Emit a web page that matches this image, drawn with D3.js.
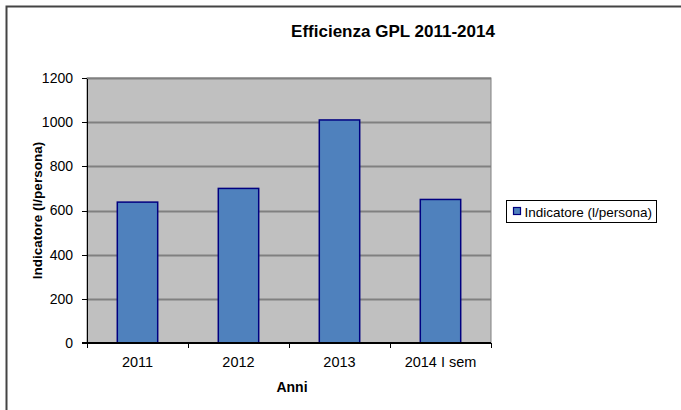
<!DOCTYPE html>
<html lang="it">
<head>
  <meta charset="utf-8">
  <title>Efficienza GPL 2011-2014</title>
  <style>
    body { margin: 0; background: #fff; }
    svg text { font-family: "Liberation Sans", Arial, sans-serif; fill: #000; }
    .axis path, .axis line { stroke: #000; shape-rendering: crispEdges; }
    .axis text { font-size: 14px; }
  </style>
</head>
<body>
<div id="chart"></div>
<script src="https://d3js.org/d3.v7.min.js"></script>
<script>
  const anni = ["2011", "2012", "2013", "2014 I sem"];
  const indicatore = [638, 700, 1010, 650];
  const yTicks = [0, 200, 400, 600, 800, 1000, 1200];

  const width = 681, height = 410;
  const plot = { left: 87, right: 491, top: 78, bottom: 343 };

  const svg = d3.select("#chart").append("svg")
    .attr("width", width)
    .attr("height", height);

  // outer frame (runs off the right and bottom)
  svg.append("rect")
    .attr("x", 6.5).attr("y", 6.5)
    .attr("width", 700).attr("height", 420)
    .attr("fill", "none")
    .attr("stroke", "#444")
    .attr("stroke-width", 2);

  const x = d3.scaleBand()
    .domain(anni)
    .range([plot.left, plot.right])
    .paddingInner(0.6)
    .paddingOuter(0.3);

  const xBand = d3.scaleBand()
    .domain(anni)
    .range([plot.left, plot.right]);

  const y = d3.scaleLinear()
    .domain([0, 1200])
    .range([plot.bottom, plot.top]);

  // plot area
  svg.append("rect")
    .attr("x", plot.left).attr("y", plot.top)
    .attr("width", plot.right - plot.left)
    .attr("height", plot.bottom - plot.top)
    .attr("fill", "#c0c0c0")
    .attr("stroke", "#808080")
    .attr("stroke-width", 1);

  // grid lines
  svg.append("g").selectAll("line")
    .data(yTicks.filter(d => d > 0))
    .join("line")
    .attr("x1", plot.left).attr("x2", plot.right)
    .attr("y1", d => Math.round(y(d)) + 0.5)
    .attr("y2", d => Math.round(y(d)) + 0.5)
    .attr("stroke", "#808080")
    .attr("stroke-width", 2);

  // bars
  svg.append("g").selectAll("rect")
    .data(anni)
    .join("rect")
    .attr("x", d => x(d))
    .attr("y", (d, i) => y(indicatore[i]))
    .attr("width", x.bandwidth())
    .attr("height", (d, i) => y(0) - y(indicatore[i]))
    .attr("fill", "#4f81bd")
    .attr("stroke", "#000080")
    .attr("stroke-width", 1.5);

  // y axis
  const yAxis = svg.append("g")
    .attr("class", "axis")
    .attr("transform", `translate(${plot.left},0)`)
    .call(d3.axisLeft(y).tickValues(yTicks).tickFormat(d3.format("d"))
      .tickSize(5).tickSizeOuter(0).tickPadding(9));
  yAxis.select(".domain").attr("stroke-width", 1.5);

  // x axis with ticks between categories
  const xAxis = svg.append("g")
    .attr("class", "axis")
    .attr("transform", `translate(0,${plot.bottom})`);
  xAxis.append("line")
    .attr("x1", plot.left - 5).attr("x2", plot.right)
    .attr("stroke", "#000").attr("stroke-width", 1.5);
  xAxis.selectAll(".sep")
    .data(anni.concat(["end"]))
    .join("line")
    .attr("class", "sep")
    .attr("x1", (d, i) => i < anni.length ? xBand(d) : plot.right)
    .attr("x2", (d, i) => i < anni.length ? xBand(d) : plot.right)
    .attr("y1", 0).attr("y2", 5)
    .attr("stroke", "#000");
  xAxis.selectAll("text")
    .data(anni)
    .join("text")
    .attr("x", d => xBand(d) + xBand.bandwidth() / 2)
    .attr("y", 24)
    .attr("text-anchor", "middle")
    .style("font-size", "14.5px")
    .text(d => d);

  // titles
  svg.append("text")
    .attr("x", 393).attr("y", 37)
    .attr("text-anchor", "middle")
    .style("font-size", "17px").style("font-weight", "bold")
    .text("Efficienza GPL 2011-2014");

  svg.append("text")
    .attr("x", 292).attr("y", 392)
    .attr("text-anchor", "middle")
    .style("font-size", "14px").style("font-weight", "bold")
    .text("Anni");

  svg.append("text")
    .attr("transform", `translate(42,${(plot.top + plot.bottom) / 2}) rotate(-90)`)
    .attr("text-anchor", "middle")
    .style("font-size", "13.5px").style("font-weight", "bold")
    .text("Indicatore (l/persona)");

  // legend
  const legend = svg.append("g").attr("transform", "translate(506.5,200.5)");
  legend.append("rect")
    .attr("width", 150).attr("height", 22)
    .attr("fill", "#fff").attr("stroke", "#000").attr("stroke-width", 1);
  legend.append("rect")
    .attr("x", 7).attr("y", 7).attr("width", 7).attr("height", 7)
    .attr("fill", "#4f81bd").attr("stroke", "#000080").attr("stroke-width", 1.2);
  legend.append("text")
    .attr("x", 18).attr("y", 16)
    .style("font-size", "13.5px")
    .text("Indicatore (l/persona)");
</script>
</body>
</html>
